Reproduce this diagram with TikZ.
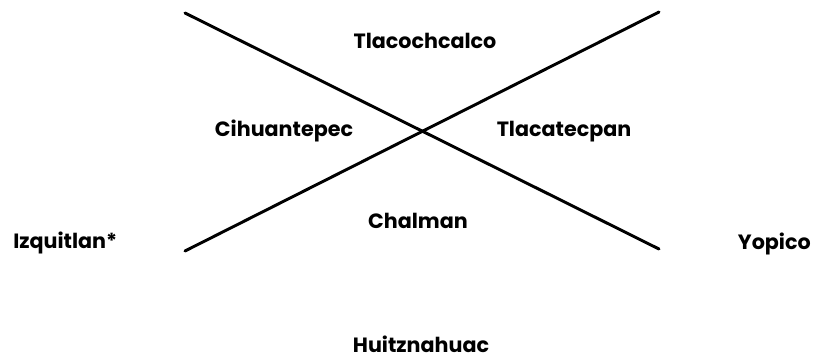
\documentclass[tikz,border=0pt]{standalone}
\usepackage{fontspec}
\setmainfont{Poppins}
\tikzset{
  lbl/.style={inner sep=0pt, anchor=base, font=\fontsize{15.5pt}{18pt}\selectfont\bfseries, text=black},
  axis/.style={line width=2.2pt, line cap=round, black}
}
\begin{document}
\begin{tikzpicture}[x=0.75pt,y=-0.75pt]
\useasboundingbox (0,0) rectangle (813,358);
\coordinate (tl) at (185,13);
\coordinate (br) at (659,249);
\coordinate (bl) at (185,251);
\coordinate (tr) at (659,12);
\draw[axis] (tl) -- (br);
\draw[axis] (bl) -- (tr);
\node[lbl] (tlaco) at (425,48) {Tlacochcalco};
\node[lbl] (cihua) at (284,136) {Cihuantepec};
\node[lbl] (tlaca) at (564,136) {Tlacatecpan};
\node[lbl] (chal) at (418,228) {Chalman};
\node[lbl, anchor=base west] (izq) at (13,248) {Izquitlan*};
\node[lbl, anchor=base east] (yop) at (811,249) {Yopico};
\node[lbl] (huitz) at (421,352) {Huitznahuac};
\end{tikzpicture}
\end{document}
